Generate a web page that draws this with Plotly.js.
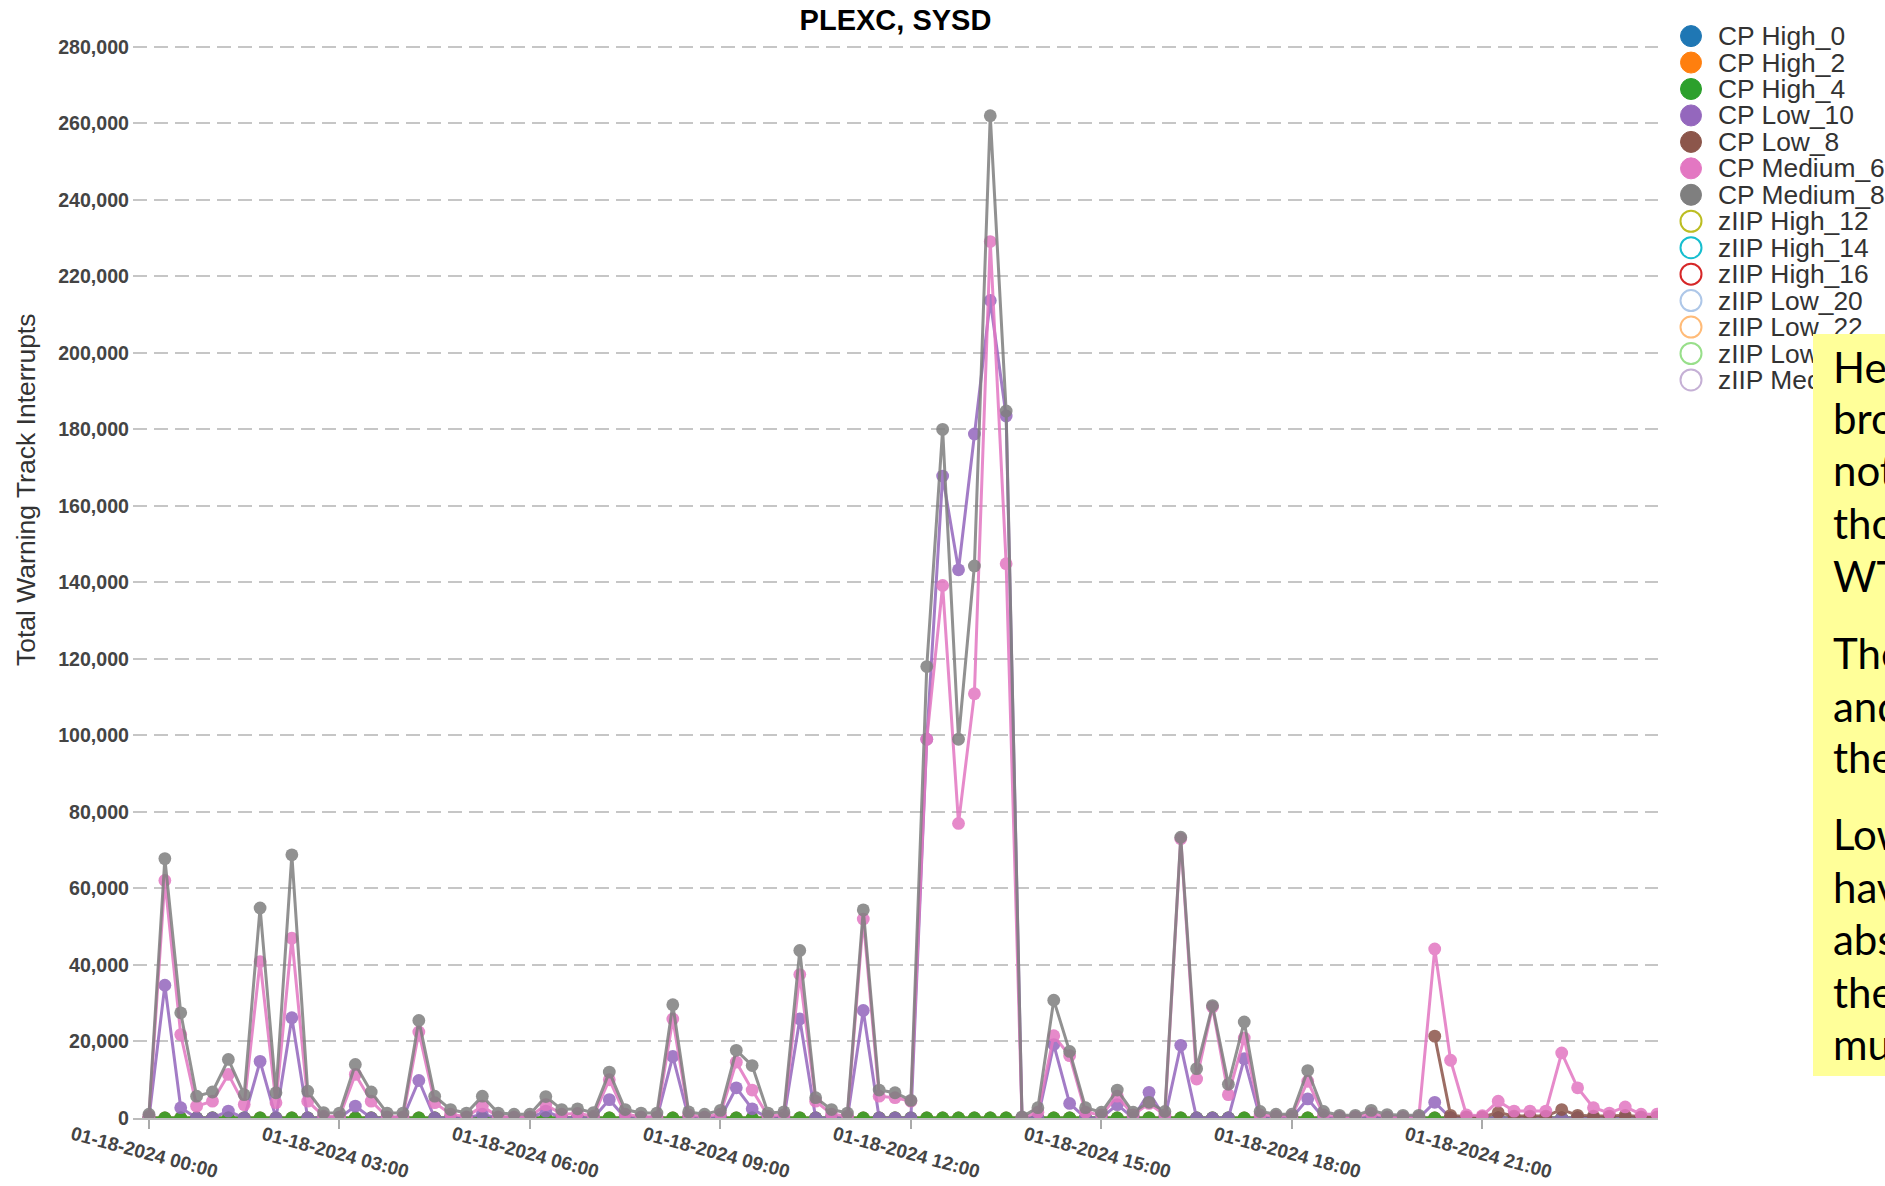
<!DOCTYPE html>
<html>
<head>
<meta charset="utf-8">
<script src="https://cdn.plot.ly/plotly-3.0.1.min.js"></script>
<style>
html,body{margin:0;padding:0;background:#ffffff;overflow:hidden;}
#chart{width:1885px;height:1186px;}
</style>
</head>
<body>
<div id="chart"></div>
<script>
// ---------------- DATA ----------------
const DAY = "2024-01-18";
const times = [
 "00:00","00:15","00:30","00:45","01:00","01:15","01:30","01:45","02:00","02:15","02:30","02:45",
 "03:00","03:15","03:30","03:45","04:00","04:15","04:30","04:45","05:00","05:15","05:30","05:45",
 "06:00","06:15","06:30","06:45","07:00","07:15","07:30","07:45","08:00","08:15","08:30","08:45",
 "09:00","09:15","09:30","09:45","10:00","10:15","10:30","10:45","11:00","11:15","11:30","11:45",
 "12:00","12:15","12:30","12:45","13:00","13:15","13:30","13:45","14:00","14:15","14:30","14:45",
 "15:00","15:15","15:30","15:45","16:00","16:15","16:30","16:45","17:00","17:15","17:30","17:45",
 "18:00","18:15","18:30","18:45","19:00","19:15","19:30","19:45","20:00","20:15","20:30","20:45",
 "21:00","21:15","21:30","21:45","22:00","22:15","22:30","22:45","23:00","23:15","23:30","23:45"
];

const cpHigh0 = [0,0,0,0,0,0,0,0,0,0,0,0,0,0,0,0,0,0,0,0,0,0,0,0,0,0,0,0,0,0,0,0,0,0,0,0,0,0,0,0,0,0,0,0,0,0,0,0,
                 0,0,0,0,0,0,0,0,0,0,0,0,0,0,0,0,0,0,0,0,0,0,0,0,0,0,0,0,0,0,0,0,0,0,0,0,0,0,0,0,0,0,0,0,0,0,0,0];
const cpHigh2 = [0,0,0,0,0,0,0,0,0,0,0,0,0,0,0,0,0,0,0,0,0,0,0,0,0,0,0,0,0,0,0,0,0,0,0,0,0,0,0,0,0,0,0,0,0,0,0,0,
                 0,0,0,0,0,0,0,0,0,0,0,0,0,0,0,0,0,0,0,0,0,0,0,0,0,0,0,0,0,0,0,0,0,0,0,0,0,0,0,0,0,0,0,0,0,0,0,0];
const cpHigh4 = [0,0,0,0,0,0,0,0,0,0,0,0,0,0,0,0,0,0,0,0,0,0,0,0,0,0,0,0,0,0,0,0,0,0,0,0,0,0,0,0,0,0,0,0,0,0,0,0,
                 0,0,0,0,0,0,0,0,0,0,0,0,0,0,0,0,0,0,0,0,0,0,0,0,0,0,0,0,0,0,0,0,0,0,0,0,0,0,0,0,0,0,0,0,0,0,0,0];
const cpLow10 = [0,34700,2700,0,0,1800,0,14800,0,26200,
                 0,0,0,3100,0,0,0,9800,0,0,
                 0,1000,0,0,0,1800,0,0,0,4800,
                 0,0,0,16100,0,0,0,7900,2400,0,
                 0,25900,0,0,0,28100,0,0,0,99000,
                 167800,143300,178800,213700,183500,0,0,19200,3800,0,
                 0,3500,0,6700,0,19000,0,0,0,15500,
                 0,0,0,5000,0,0,0,0,0,0,
                 0,4100,0,0,0,0,0,0,0,0,
                 0,0,0,0,0,0];
const cpLow8 = [null,null,null,null,null,null,null,null,null,null,
                null,null,null,null,null,null,null,null,null,null,
                null,null,null,null,null,null,null,null,null,null,
                null,null,null,null,null,null,null,null,null,null,
                null,null,null,null,null,null,null,null,null,null,
                null,null,null,null,null,null,null,null,null,null,
                null,null,null,null,null,null,null,null,null,null,
                null,null,null,null,null,null,null,null,null,null,
                null,21400,700,300,300,1400,500,500,500,2200,
                700,500,500,700,300,300];
const cpMedium6 = [500,62100,21800,3100,4400,11400,3500,40900,4000,47000,
                   4400,500,300,11400,4400,300,300,22500,4000,1000,
                   300,3100,300,300,300,3500,1000,1200,500,10000,
                   1000,300,300,25900,800,300,1000,14600,7300,500,
                   800,37500,4400,1000,500,52000,5700,5300,4400,99000,
                   139200,77000,110900,229100,144900,0,1500,21500,16300,1500,
                   800,5700,800,3800,800,73000,10200,29000,6100,20900,
                   800,500,500,9600,800,300,300,1200,300,300,
                   300,44200,15100,800,600,4400,1800,1800,1800,17000,
                   7900,2700,1300,2900,1000,1000];
const cpMedium8 = [1000,67800,27500,5700,6800,15300,6100,54900,6600,68800,
                   7000,1400,1300,14000,6800,1300,1300,25500,5700,2200,
                   1300,5700,1300,1000,1000,5600,2200,2400,1400,12000,
                   2200,1300,1300,29600,1600,1000,2000,17700,13700,1300,
                   1600,43800,5300,2200,1300,54400,7300,6600,4600,118000,
                   180000,99000,144300,262000,184800,300,2700,30800,17400,2700,
                   1500,7300,1500,4100,1700,73400,12900,29400,8800,25100,
                   1700,1000,1000,12400,1700,700,700,2000,900,700,
                   700,null,null,null,null,null,null,null,null,null,
                   null,null,null,null,null,null];

const seriesNames  = ["CP High_0","CP High_2","CP High_4","CP Low_10","CP Low_8","CP Medium_6","CP Medium_8"];
const seriesValues = [cpHigh0, cpHigh2, cpHigh4, cpLow10, cpLow8, cpMedium6, cpMedium8];
const seriesColors = ["#1f77b4","#ff7f0e","#2ca02c","#9467bd","#8c564b","#e377c2","#7f7f7f"];

const legendNames  = ["CP High_0","CP High_2","CP High_4","CP Low_10","CP Low_8","CP Medium_6","CP Medium_8",
                      "zIIP High_12","zIIP High_14","zIIP High_16","zIIP Low_20","zIIP Low_22","zIIP Low_24","zIIP Medium_18"];
const legendColors = ["#1f77b4","#ff7f0e","#2ca02c","#9467bd","#8c564b","#e377c2","#7f7f7f",
                      "#bcbd22","#17becf","#d62728","#aec7e8","#ffbb78","#98df8a","#c5b0d5"];
const legendFilled = [true,true,true,true,true,true,true,false,false,false,false,false,false,false];

const tickTimes  = ["00:00","03:00","06:00","09:00","12:00","15:00","18:00","21:00"];
const tickLabels = ["01-18-2024 00:00","01-18-2024 03:00","01-18-2024 06:00","01-18-2024 09:00",
                    "01-18-2024 12:00","01-18-2024 15:00","01-18-2024 18:00","01-18-2024 21:00"];

const chartTitle = "PLEXC, SYSD";
const yTitle = "Total Warning Track Interrupts";

const noteLines = ["Here we","broken","not","those","WTIs","There","and","they","Low","have","absent","their","much"];
const noteLineY = [367,418,470,523,576,653,706,757,834,887,939,992,1044];

// ---------------- GEOMETRY (pixels) ----------------
const W = 1885, H = 1186;
const M = {l:133, r:227, t:43, b:68};
const PW = W - M.l - M.r, PH = H - M.t - M.b;
const plotBottom = H - M.b;
const py = p => (plotBottom - p) / PH;       // pixel y -> paper y
const px = p => (p - M.l) / PW;              // pixel x -> paper x

const xs = times.map(t => DAY + " " + t);

// ---------------- TRACES ----------------
const traces = seriesNames.map((n, k) => ({
  type: "scatter",
  mode: "lines+markers",
  name: n,
  x: xs,
  y: seriesValues[k],
  connectgaps: false,
  opacity: 0.86,
  line: {color: seriesColors[k], width: 3},
  marker: {color: seriesColors[k], size: 12.8},
  showlegend: false,
  hoverinfo: "x+y+name"
}));

// ---------------- LEGEND (shapes + annotations) ----------------
const legMarkerX = 1691, legTextX = 1716, legY0 = 36.1, legStep = 26.45, legR = 10.5;
const shapes = [];
const annotations = [];
legendNames.forEach((n, i) => {
  const cy = legY0 + i * legStep;
  shapes.push({
    type: "circle", layer: "above",
    xref: "paper", yref: "paper",
    xsizemode: "pixel", ysizemode: "pixel",
    xanchor: px(legMarkerX), yanchor: py(cy),
    x0: -legR, x1: legR, y0: -legR, y1: legR,
    fillcolor: legendFilled[i] ? legendColors[i] : "#ffffff",
    line: {color: legendColors[i], width: legendFilled[i] ? 1 : 2}
  });
  annotations.push({
    x: px(legTextX), xref: "paper", y: py(cy), yref: "paper",
    text: n, showarrow: false, xanchor: "left", yanchor: "middle",
    font: {family: "Liberation Sans, Arial, sans-serif", size: 26.4, color: "#333333"}
  });
});

// x tick labels
tickTimes.forEach((t, i) => {
  annotations.push({
    x: DAY + " " + t, xref: "x", y: py(1152), yref: "paper",
    text: tickLabels[i], showarrow: false, textangle: 15,
    xanchor: "center", yanchor: "middle", xshift: -4,
    font: {family: "Liberation Sans, Arial, sans-serif", size: 19, color: "#444444", weight: "bold"}
  });
});
// y title
annotations.push({
  x: px(26), xref: "paper", y: py(490), yref: "paper",
  text: yTitle, showarrow: false, textangle: -90,
  xanchor: "center", yanchor: "middle",
  font: {family: "Liberation Sans, Arial, sans-serif", size: 26.5, color: "#333333"}
});
// yellow note box (drawn after the legend texts so it covers them)
annotations.push({
  x: px(1813), xref: "paper", y: py(334), yref: "paper",
  text: " ", showarrow: false, xanchor: "left", yanchor: "top",
  width: 200, height: 742, bgcolor: "#ffff99", borderpad: 0, borderwidth: 0,
  font: {size: 10}
});
noteLines.forEach((s, i) => {
  annotations.push({
    x: px(1831), xref: "paper", y: py(noteLineY[i]), yref: "paper",
    text: s, showarrow: false, xanchor: "left", yanchor: "middle",
    font: {family: "Lato, Carlito, sans-serif", size: 42, color: "#000000"}
  });
});

// ---------------- LAYOUT ----------------
const layout = {
  width: W, height: H,
  margin: M,
  paper_bgcolor: "#ffffff", plot_bgcolor: "#ffffff",
  font: {family: "Liberation Sans, Arial, sans-serif", color: "#333333"},
  showlegend: false,
  title: {
    text: chartTitle, x: 0.5, xref: "paper", xanchor: "center",
    y: 1 - 20 / H, yref: "container", yanchor: "middle",
    font: {family: "Liberation Sans, Arial, sans-serif", size: 29, color: "#000000", weight: "bold"}
  },
  xaxis: {
    type: "date",
    range: ["2024-01-17 23:44:54", "2024-01-18 23:46:00"],
    tickmode: "array", tickvals: tickTimes.map(t => DAY + " " + t),
    showticklabels: false,
    ticks: "outside", ticklen: 9, tickwidth: 2, tickcolor: "#aaaaaa",
    showgrid: false, zeroline: false,
    showline: true, linecolor: "#bbbbbb", linewidth: 2
  },
  yaxis: {
    range: [0, 281000],
    tickmode: "linear", tick0: 0, dtick: 20000, tickformat: ",",
    showgrid: true, gridcolor: "#c6c6c6", gridwidth: 2, griddash: "14px,7px",
    zeroline: false, showline: false, ticks: "",
    ticklabelstandoff: 3,
    tickfont: {family: "Liberation Sans, Arial, sans-serif", size: 19.6, color: "#444444", weight: "bold"}
  },
  shapes: shapes,
  annotations: annotations
};

Plotly.newPlot("chart", traces, layout, {displayModeBar: false, staticPlot: true});
</script>
</body>
</html>
